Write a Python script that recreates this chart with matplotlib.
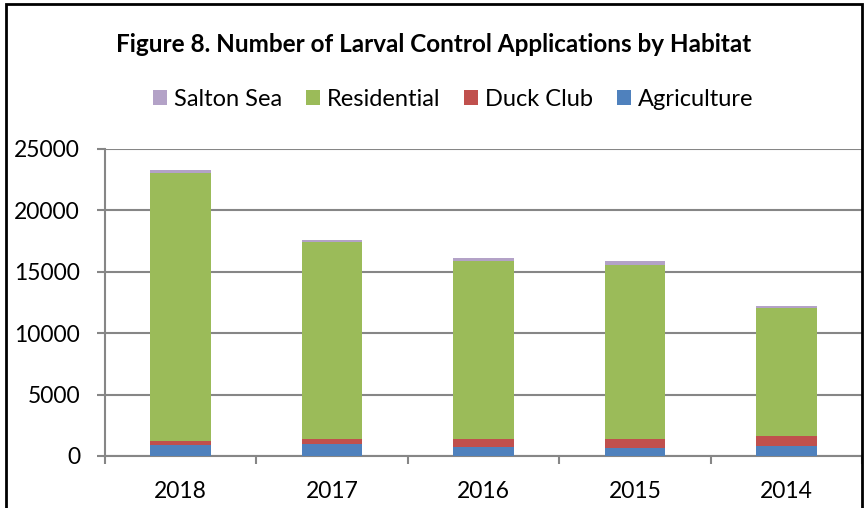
import matplotlib
matplotlib.use("Agg")
import matplotlib.pyplot as plt
from matplotlib.patches import Rectangle, Patch
import numpy as np

years = ["2018", "2017", "2016", "2015", "2014"]
agriculture = [910, 1000, 720, 670, 855]
duck_club = [330, 380, 650, 700, 760]
residential = [21830, 16050, 14510, 14180, 10440]
salton_sea = [190, 160, 220, 300, 150]

colors = {"Agriculture": "#4F81BD", "Duck Club": "#C0504D",
          "Residential": "#9BBB59", "Salton Sea": "#B3A2C7"}

plt.rcParams['font.family'] = ['Lato', 'DejaVu Sans']

fig = plt.figure(figsize=(8.65, 5.08), dpi=100)
ax = fig.add_axes([105/865, 1-456/508, (862-105)/865, (456-149)/508])

x = np.arange(len(years))
w = 0.4
b1 = np.array(agriculture)
b2 = b1 + np.array(duck_club)
b3 = b2 + np.array(residential)
ax.bar(x, agriculture, w, color=colors["Agriculture"], zorder=3)
ax.bar(x, duck_club, w, bottom=b1, color=colors["Duck Club"], zorder=3)
ax.bar(x, residential, w, bottom=b2, color=colors["Residential"], zorder=3)
ax.bar(x, salton_sea, w, bottom=b3, color=colors["Salton Sea"], zorder=3)

ax.set_xlim(-0.5, len(years) - 0.5)
ax.set_ylim(0, 25000)
ax.set_yticks(range(0, 25001, 5000))
ax.yaxis.grid(True, color="#868686", linewidth=1.5, zorder=0)
ax.set_axisbelow(True)
ax.set_xticks(x)
ax.set_xticklabels(years)
ax.set_xticks(np.arange(-0.5, len(years), 1.0), minor=True)
ax.tick_params(axis='x', which='major', length=0, pad=18, labelsize=16.5)
ax.tick_params(axis='x', which='minor', length=6, width=1.5, color="#868686", direction='out')
ax.tick_params(axis='y', length=6, width=1.5, color="#868686", direction='out', pad=12, labelsize=16.5)
for s in ['top', 'right']:
    ax.spines[s].set_visible(False)
for s in ['left', 'bottom']:
    ax.spines[s].set_color("#868686")
    ax.spines[s].set_linewidth(1.5)

fig.text(434/865, 1-45/508, "Figure 8. Number of Larval Control Applications by Habitat",
         ha='center', va='center', fontsize=17.5, fontweight='bold')

order = ["Salton Sea", "Residential", "Duck Club", "Agriculture"]
handles = [Patch(facecolor=colors[k]) for k in order]
fig.legend(handles, order, loc='center', bbox_to_anchor=(453/865, 1-99/508), ncol=4,
           frameon=False, fontsize=17, handlelength=0.6, handleheight=0.6,
           handletextpad=0.3, columnspacing=1.0)

fig.patches.append(Rectangle((6/865, -0.1), (862-6)/865, 1.1 - 4/508, transform=fig.transFigure,
                             fill=False, edgecolor='black', linewidth=2))

fig.savefig("out.png", dpi=100)
